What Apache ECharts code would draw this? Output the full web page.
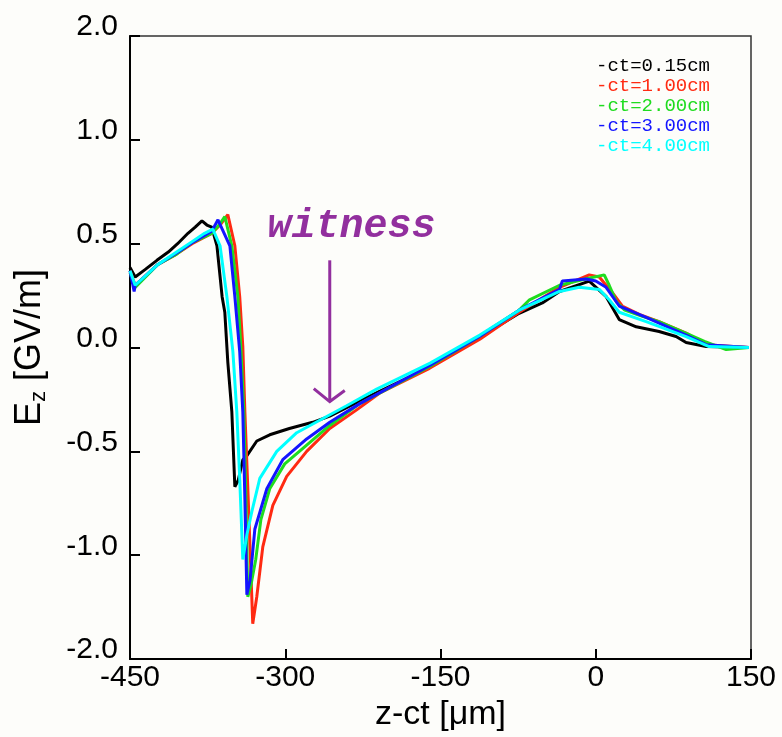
<!DOCTYPE html>
<html>
<head>
<meta charset="utf-8">
<script src="https://cdn.jsdelivr.net/npm/echarts@6/dist/echarts.min.js"></script>
<style>
html,body{margin:0;padding:0;background:#fdfdfa;}
#c{width:782px;height:737px;}
</style>
</head>
<body>
<div id="c"></div>
<script>
// ---- data (z-ct in µm, Ez in GV/m) ----
const seriesNames = ['-ct=0.15cm', '-ct=1.00cm', '-ct=2.00cm', '-ct=3.00cm', '-ct=4.00cm'];
const seriesColors = ['#000000', '#ff2a12', '#1fdc1f', '#1414ff', '#00ffff'];

const ct015 = [[-450,0.385],[-445,0.34],[-435.5,0.375],[-424,0.42],[-413,0.46],[-404,0.5],[-394,0.55],[-387,0.58],[-380.5,0.61],[-375.7,0.59],[-371,0.58],[-366,0.49],[-361,0.245],[-358.4,0.17],[-355.5,-0.07],[-351.6,-0.31],[-348.7,-0.67],[-345.5,-0.64],[-341,-0.54],[-337,-0.52],[-327.5,-0.45],[-315,-0.42],[-296,-0.39],[-273.5,-0.36],[-257,-0.33],[-225,-0.25],[-160.6,-0.095],[-112,0.05],[-74,0.165],[-51.6,0.215],[-35,0.27],[-6.3,0.32],[10.1,0.245],[22.7,0.135],[39.1,0.1],[61.2,0.077],[77.6,0.053],[87.3,0.024],[106.6,0.005],[148,0.0]];

const ct100 = [[-450,0.37],[-445,0.30],[-423,0.40],[-405,0.45],[-390,0.5],[-371,0.55],[-363,0.59],[-355.5,0.64],[-348.7,0.49],[-344,0.245],[-341,0.005],[-339,-0.31],[-335,-0.83],[-331.4,-1.33],[-327.5,-1.2],[-321.7,-0.96],[-312,-0.76],[-298.6,-0.62],[-279.3,-0.5],[-257,-0.39],[-231,-0.3],[-209,-0.22],[-160.6,-0.1],[-112,0.04],[-74,0.17],[-35,0.29],[-6.3,0.35],[3.4,0.34],[15.9,0.265],[25.6,0.2],[42,0.16],[61.2,0.125],[87.3,0.07],[106.6,0.014],[148,0.0]];

const ct200 = [[-450,0.36],[-445,0.29],[-423,0.40],[-405,0.45],[-390,0.505],[-371,0.55],[-364,0.59],[-358.4,0.63],[-351.6,0.49],[-345.8,0.245],[-342.9,0.0],[-340,-0.31],[-338,-0.73],[-336.2,-1.2],[-333,-1.14],[-328.5,-1.02],[-323.6,-0.83],[-315,-0.68],[-300.5,-0.56],[-279.3,-0.47],[-257,-0.375],[-228,-0.27],[-160,-0.09],[-112,0.055],[-74,0.18],[-64,0.23],[-35,0.3],[-10,0.33],[8.2,0.35],[13,0.3],[20,0.22],[28,0.18],[45,0.15],[61,0.125],[87,0.07],[105,0.03],[126,-0.01],[148,0.0]];

const ct300 = [[-450,0.37],[-446,0.27],[-445,0.30],[-423,0.40],[-405,0.455],[-390,0.505],[-371,0.56],[-365,0.615],[-353.5,0.49],[-348.7,0.245],[-344,-0.02],[-341,-0.31],[-339,-0.73],[-337.1,-1.19],[-334,-1.12],[-329.4,-0.875],[-317.8,-0.68],[-302.4,-0.54],[-279.3,-0.44],[-257,-0.36],[-228,-0.27],[-160,-0.085],[-112,0.055],[-74,0.18],[-35,0.28],[-32.3,0.32],[-9.2,0.33],[0,0.32],[10,0.29],[22.7,0.2],[48.7,0.145],[87.3,0.06],[106.6,0.014],[148,0.0]];

const ct400 = [[-450,0.37],[-445,0.30],[-423,0.40],[-405,0.46],[-390,0.51],[-378,0.55],[-370,0.57],[-363,0.49],[-356.4,0.245],[-350.6,-0.02],[-346.8,-0.31],[-344,-0.63],[-341,-1.02],[-337,-0.9],[-332.3,-0.79],[-324.6,-0.63],[-308.2,-0.5],[-288.9,-0.41],[-266.7,-0.35],[-240.7,-0.28],[-211.7,-0.2],[-160,-0.075],[-112,0.06],[-74,0.18],[-35,0.27],[-15.9,0.29],[3.4,0.28],[13,0.23],[22.7,0.17],[48.7,0.125],[87.3,0.053],[109.5,0.005],[148,0.0]];

const allSeries = [ct015, ct100, ct200, ct300, ct400];

const xTicks = [-450, -300, -150, 0, 150];
const yTickLabels = ['-2.0', '-1.0', '-0.5', '0.0', '0.5', '1.0', '2.0'];

// annotation ("witness" arrow) in data units
const witnessText = 'witness';
const witnessTextPos = [-236, 0.58];
const arrowTop = [-257, 0.42];
const arrowTip = [-257, -0.26];

const chart = echarts.init(document.getElementById('c'), null, {renderer: 'canvas'});

const option = {
  backgroundColor: '#fdfdfa',
  animation: false,
  grid: {left: 130, right: 31, top: 36, bottom: 76, show: true, borderColor: '#333', borderWidth: 1.5, backgroundColor: 'transparent'},
  legend: {
    orient: 'vertical', left: 591, top: 51, itemWidth: 0, itemHeight: 0, itemGap: 1,
    icon: 'rect', selectedMode: false,
    data: seriesNames.map((n, i) => ({name: n, textStyle: {color: seriesColors[i]}})),
    textStyle: {fontSize: 19, fontFamily: 'Liberation Mono', padding: [0,0,0,-5]}
  },
  xAxis: {
    type: 'value', min: xTicks[0], max: xTicks[xTicks.length - 1], interval: 150,
    name: 'z-ct [\u03bcm]', nameLocation: 'middle', nameGap: 38,
    nameTextStyle: {fontSize: 34, color: '#000', fontFamily: 'Liberation Sans'},
    axisLine: {onZero: false, lineStyle: {color: '#000', width: 2}},
    axisTick: {inside: true, length: 10, lineStyle: {color: '#000', width: 2}},
    axisLabel: {fontSize: 30, color: '#000', fontFamily: 'Liberation Sans', margin: 4, showMaxLabel: true, showMinLabel: true},
    splitLine: {show: false}
  },
  yAxis: {
    type: 'value', min: -1.5, max: 1.5, interval: 0.5,
    name: 'E{sub|z} [GV/m]', nameLocation: 'middle', nameGap: 80,
    nameTextStyle: {fontSize: 36, color: '#000', fontFamily: 'Liberation Sans',
      rich: {sub: {fontSize: 22, color: '#000', fontFamily: 'Liberation Sans', padding: [18, 0, 0, 0]}}},
    axisLine: {onZero: false, lineStyle: {color: '#000', width: 2}},
    axisTick: {inside: true, length: 10, lineStyle: {color: '#000', width: 2}},
    axisLabel: {fontSize: 30, color: '#000', fontFamily: 'Liberation Sans', margin: 12,
      verticalAlign: 'bottom', lineHeight: 18,
      formatter: (v, i) => yTickLabels[i]},
    splitLine: {show: false}
  },
  series: allSeries.map((d, i) => ({
    name: seriesNames[i], type: 'line', data: d, showSymbol: false, symbol: 'none',
    lineStyle: {color: seriesColors[i], width: 3}, itemStyle: {color: seriesColors[i]},
    z: 2 + i
  }))
};
chart.setOption(option);

// annotation placed via the chart's own coordinate conversion
const pTop = chart.convertToPixel({gridIndex: 0}, arrowTop);
const pTip = chart.convertToPixel({gridIndex: 0}, arrowTip);
const pTxt = chart.convertToPixel({gridIndex: 0}, witnessTextPos);
const purple = '#922f9e';
chart.setOption({
  graphic: [
    {type: 'line', shape: {x1: pTop[0], y1: pTop[1], x2: pTip[0], y2: pTip[1]}, style: {stroke: purple, lineWidth: 3}, z: 100},
    {type: 'polyline', shape: {points: [[pTip[0] - 16, pTip[1] - 13], [pTip[0], pTip[1]], [pTip[0] + 15, pTip[1] - 11]]}, style: {stroke: purple, lineWidth: 3, fill: null}, z: 100},
    {type: 'text', x: pTxt[0], y: pTxt[1], style: {text: witnessText, fill: purple, font: 'italic bold 40px "Liberation Mono"', textAlign: 'center', textVerticalAlign: 'middle'}, z: 100}
  ]
});
</script>
</body>
</html>
